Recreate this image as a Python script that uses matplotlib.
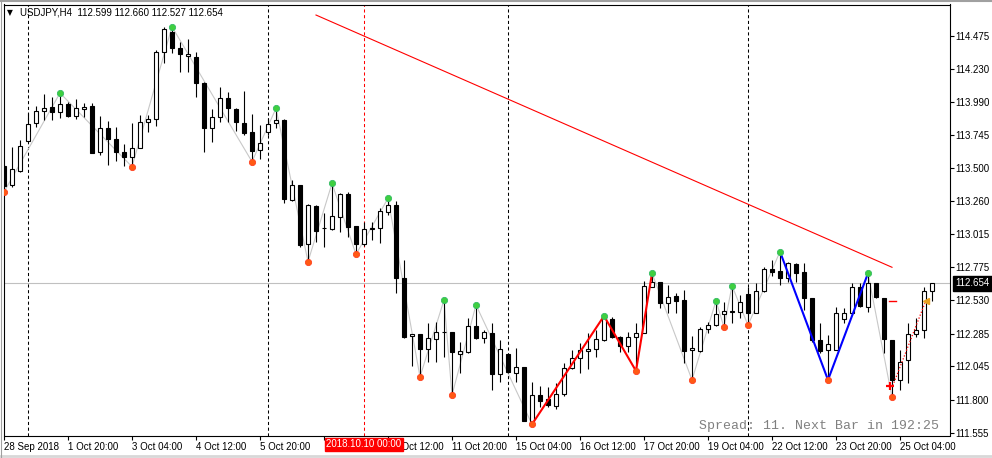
import numpy as np
import matplotlib
matplotlib.use('Agg')
import matplotlib.pyplot as plt
from matplotlib.lines import Line2D

plt.rcParams['font.family'] = ['Liberation Sans', 'DejaVu Sans']
plt.rcParams['font.size'] = 7

# USDJPY H4 candles, 28 Sep 2018 12:00 .. 25 Oct 2018 20:00
open_ = [113.517, 113.378, 113.483, 113.703, 113.831, 113.922, 113.949, 113.916, 113.973, 113.887,
         113.934, 113.958, 113.622, 113.794, 113.716, 113.622, 113.586, 113.647, 113.839, 113.861,
         114.353, 114.504, 114.382, 114.326, 114.316, 114.130, 113.794, 113.875, 114.015, 113.936,
         113.831, 113.765, 113.635, 113.765, 113.831, 113.855, 113.267, 113.378, 112.944, 113.223,
         113.059, 113.054, 113.146, 113.312, 113.076, 112.944, 113.058, 113.059, 113.181, 113.231,
         112.696, 112.268, 112.283, 112.172, 112.244, 112.295, 112.295, 112.138, 112.153, 112.341,
         112.251, 112.288, 111.986, 112.133, 111.998, 112.038, 111.643, 111.834, 111.803, 111.756,
         111.839, 112.031, 112.108, 112.158, 112.170, 112.239, 112.391, 112.263, 112.194, 112.258,
         112.292, 112.630, 112.667, 112.508, 112.562, 112.533, 112.165, 112.160, 112.317, 112.347,
         112.430, 112.447, 112.447, 112.574, 112.435, 112.599, 112.758, 112.746, 112.692, 112.795,
         112.736, 112.545, 112.239, 112.165, 112.165, 112.395, 112.435, 112.630, 112.483, 112.655,
         112.549, 112.239, 111.945, 112.092, 112.280, 112.312, 112.599]
high_ = [113.525, 113.659, 113.708, 113.909, 113.958, 114.047, 114.022, 114.054, 113.990, 114.008,
         113.978, 113.983, 113.887, 113.850, 113.802, 113.679, 113.831, 113.892, 113.892, 114.370,
         114.537, 114.541, 114.427, 114.451, 114.357, 114.137, 113.934, 114.100, 114.063, 113.946,
         114.071, 113.897, 113.819, 113.868, 113.941, 113.863, 113.414, 113.378, 113.238, 113.231,
         113.172, 113.390, 113.319, 113.324, 113.076, 113.108, 113.108, 113.211, 113.280, 113.262,
         112.826, 112.283, 112.283, 112.361, 112.369, 112.533, 112.295, 112.226, 112.398, 112.496,
         112.312, 112.361, 112.239, 112.133, 112.178, 112.038, 111.932, 111.900, 111.895, 111.920,
         112.067, 112.165, 112.214, 112.288, 112.312, 112.415, 112.410, 112.268, 112.300, 112.361,
         112.674, 112.729, 112.667, 112.643, 112.582, 112.606, 112.268, 112.332, 112.373, 112.527,
         112.518, 112.638, 112.569, 112.630, 112.655, 112.777, 112.826, 112.888, 112.814, 112.802,
         112.802, 112.545, 112.361, 112.275, 112.483, 112.472, 112.655, 112.660, 112.729, 112.655,
         112.549, 112.239, 112.165, 112.361, 112.402, 112.630, 112.660]
low_ = [113.326, 113.361, 113.475, 113.701, 113.806, 113.855, 113.855, 113.872, 113.880, 113.865,
        113.880, 113.615, 113.598, 113.523, 113.556, 113.520, 113.512, 113.647, 113.769, 113.811,
        114.277, 114.346, 114.206, 114.206, 114.022, 113.622, 113.692, 113.843, 113.843, 113.775,
        113.745, 113.549, 113.567, 113.745, 113.794, 113.243, 113.262, 112.920, 112.814, 112.961,
        112.924, 113.047, 113.034, 112.998, 112.868, 112.929, 112.973, 112.949, 113.157, 112.584,
        112.251, 112.050, 111.967, 112.079, 112.079, 112.116, 111.834, 111.994, 112.141, 112.246,
        112.214, 111.871, 111.932, 111.994, 111.932, 111.643, 111.619, 111.748, 111.748, 111.731,
        111.829, 112.025, 111.994, 112.025, 112.116, 112.233, 112.251, 112.153, 112.153, 112.011,
        112.292, 112.630, 112.472, 112.435, 112.435, 112.067, 111.945, 112.153, 112.288, 112.341,
        112.332, 112.361, 112.398, 112.347, 112.435, 112.594, 112.709, 112.643, 112.667, 112.667,
        112.459, 112.226, 112.141, 111.945, 112.165, 112.361, 112.422, 112.483, 112.447, 112.545,
        112.141, 111.817, 111.871, 111.920, 112.263, 112.251, 112.527]
close_ = [113.373, 113.493, 113.664, 113.824, 113.922, 113.946, 113.916, 113.971, 113.887, 113.941,
          113.953, 113.615, 113.794, 113.714, 113.618, 113.586, 113.647, 113.839, 113.861, 114.353,
          114.522, 114.382, 114.338, 114.341, 114.125, 113.794, 113.880, 114.015, 113.941, 113.839,
          113.762, 113.630, 113.684, 113.828, 113.855, 113.275, 113.378, 112.937, 113.231, 113.042,
          113.059, 113.150, 113.312, 113.071, 112.944, 113.052, 113.058, 113.189, 113.231, 112.696,
          112.263, 112.283, 112.172, 112.251, 112.295, 112.295, 112.153, 112.155, 112.341, 112.251,
          112.295, 111.986, 112.170, 112.006, 112.038, 111.643, 111.834, 111.792, 111.761, 111.839,
          112.031, 112.108, 112.165, 112.172, 112.246, 112.402, 112.263, 112.197, 112.258, 112.288,
          112.635, 112.667, 112.508, 112.557, 112.527, 112.160, 112.178, 112.317, 112.347, 112.430,
          112.452, 112.447, 112.516, 112.435, 112.599, 112.758, 112.738, 112.696, 112.802, 112.729,
          112.545, 112.239, 112.158, 112.207, 112.435, 112.435, 112.630, 112.488, 112.655, 112.552,
          112.244, 111.945, 112.079, 112.280, 112.312, 112.599, 112.654]

# zigzag pivots (bar index, high/low)
gray_piv = [(0, 'L'), (7, 'H'), (16, 'L'), (21, 'H'), (31, 'L'), (34, 'H'), (38, 'L'),
            (41, 'H'), (44, 'L'), (48, 'H'), (52, 'L'), (55, 'H'), (56, 'L'), (59, 'H'), (66, 'L')]
red_piv = [(66, 'L'), (75, 'H'), (79, 'L'), (81, 'H')]
gray_piv2 = [(81, 'H'), (86, 'L'), (89, 'H'), (90, 'L'), (91, 'H'), (93, 'L'), (97, 'H')]
blue_piv = [(97, 'H'), (103, 'L'), (108, 'H')]
gray_piv3 = [(108, 'H'), (111, 'L')]

yticks = [114.475, 114.230, 113.990, 113.745, 113.500, 113.260, 113.015,
          112.775, 112.530, 112.285, 112.045, 111.800, 111.555]
# '9 Oct 04:00' sits under the red date box, as in the terminal
xlabels = ['28 Sep 2018', '1 Oct 20:00', '3 Oct 04:00', '4 Oct 12:00', '5 Oct 20:00',
           '', '10 Oct 12:00', '11 Oct 20:00', '15 Oct 04:00', '16 Oct 12:00',
           '17 Oct 20:00', '19 Oct 04:00', '22 Oct 12:00', '23 Oct 20:00', '25 Oct 04:00']
separators = [3, 33, 63, 93]
trend_x = [39, 111]
trend_y = [114.627, 112.773]
last_price = 112.654

o, h, l, c = (np.array(a) for a in (open_, high_, low_, close_))
x = np.arange(len(o))

W, H = 992, 458
fig = plt.figure(figsize=(W / 100, H / 100), dpi=100)
PL, PR, PT, PB = 3.5, 949.5, 4.5, 435.5
ax = fig.add_axes([PL / W, 1 - PB / H, (PR - PL) / W, (PB - PT) / H])
ax.set_xlim((PL - 4) / 8, (PR - 4) / 8)
ax.set_ylim(111.555 - (PB - 433) / 136.06, 111.555 + (433 - PT) / 136.06)
for s in ax.spines.values():
    s.set_linewidth(0.8)

# period separators, date line, bid line
for b in separators:
    ax.axvline(b, color='black', lw=0.75, ls=(0, (3, 2.5)), zorder=1)
ax.axvline(45, color='red', lw=0.75, ls=(0, (3, 2.5)), zorder=1)
ax.axhline(last_price, color='#c0c0c0', lw=0.8, zorder=1)


def piv_xy(p):
    return [b for b, _ in p], [h[b] if k == 'H' else l[b] for b, k in p]


for p in (gray_piv, gray_piv2, gray_piv3):
    px, py = piv_xy(p)
    ax.plot(px, py, color='#c8c8c8', lw=0.8, zorder=2)

# candles
up = c >= o
ax.vlines(x, l, h, color='black', lw=0.8, zorder=3)
bot = np.minimum(o, c)
hgt = np.maximum(np.abs(c - o), 0.002)
ax.bar(x, hgt, bottom=bot, width=0.6, color=np.where(up, 'white', 'black'),
       edgecolor='black', linewidth=0.8, zorder=4)

px, py = piv_xy(red_piv)
ax.plot(px, py, color='red', lw=1.5, zorder=5)
px, py = piv_xy(blue_piv)
ax.plot(px, py, color='blue', lw=1.5, zorder=5)
ax.plot(trend_x, trend_y, color='red', lw=0.8, zorder=5)

# fractal dots
allp = gray_piv + red_piv + gray_piv2 + blue_piv + gray_piv3
hs = sorted({b for b, k in allp if k == 'H'})
ls_ = sorted({b for b, k in allp if k == 'L'})
ax.plot(hs, h[hs], 'o', ms=4.5, color='#3fcf3f', mec='#33bb66', mew=0.6, zorder=6)
ax.plot(ls_, l[ls_], 'o', ms=4.5, color='#ff5a14', mec='#ff4020', mew=0.6, zorder=6)

# signal marks on the last bars
ax.plot([111.1, 115.1], [111.903, 112.508], color='red', lw=0.9, ls=(0, (1, 1.5)), zorder=6)
ax.plot(110.75, 111.903, marker='+', color='red', ms=6, mew=1.6, zorder=7)
ax.plot([110.6, 111.5], [112.525, 112.525], color='red', lw=1, zorder=6)
ax.plot(115.2, 112.525, marker='<', color='#e8a020', ms=4, zorder=7)

ax.yaxis.tick_right()
ax.set_yticks(yticks, [f'{v:.3f}' for v in yticks])
ax.set_xticks(np.arange(0, 8 * len(xlabels), 8), xlabels)
for t in ax.get_xticklabels():
    t.set_ha('left')
ax.tick_params(axis='both', length=3, width=0.8, labelsize=7, pad=1.5)

ax.text(1.0065, last_price, f'{last_price:.3f}', transform=ax.get_yaxis_transform(),
        color='white', fontsize=7, va='center', ha='left', zorder=10, clip_on=False,
        bbox=dict(boxstyle='square,pad=0.25', fc='black', ec='black'))
ax.text(45, -0.0205, '2018.10.10 00:00', transform=ax.get_xaxis_transform(),
        color='white', fontsize=7, va='center', ha='center', zorder=10, clip_on=False,
        bbox=dict(boxstyle='square,pad=0.12', fc='#ff0000', ec='#ff0000'))

fig.text(20 / W, 1 - 12.5 / H, 'USDJPY,H4  112.599 112.660 112.527 112.654',
         fontsize=7, va='center', ha='left')
fig.text(7 / W, 1 - 12.5 / H, '▼', fontsize=5.5, va='center', ha='left', family='DejaVu Sans')
fig.text(699 / W, 1 - 426.5 / H, 'Spread: 11. Next Bar in 192:25', fontsize=9.5,
         family='Liberation Mono', color='#808080', va='center', ha='left')

# window frame
fig.add_artist(Line2D([0, 1], [1 - 1 / H, 1 - 1 / H], color='#a0a0a0', lw=1.5,
                      transform=fig.transFigure))
fig.add_artist(Line2D([0, 1], [2 / H, 2 / H], color='#d8d8d8', lw=2,
                      transform=fig.transFigure))
fig.add_artist(Line2D([0.6 / W, 0.6 / W], [0, 1], color='#a0a0a0', lw=0.8,
                      transform=fig.transFigure))

fig.savefig('out.png', dpi=100)
